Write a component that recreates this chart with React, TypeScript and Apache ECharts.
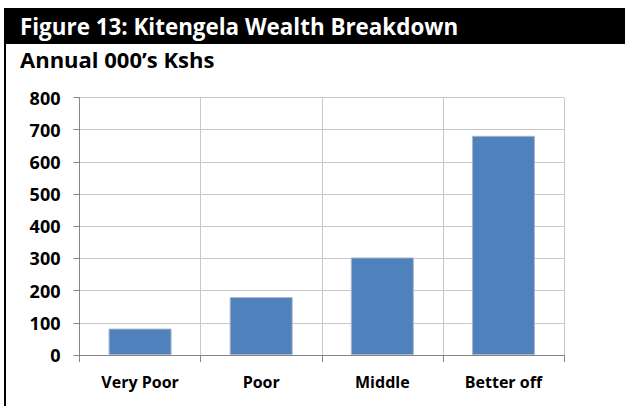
import React, { useEffect, useRef } from "react";
import * as echarts from "echarts";

const categories = ["Very Poor", "Poor", "Middle", "Better off"];
const values = [82, 180, 303, 681];
const yTicks = { min: 0, max: 800, interval: 100 };
const titleText = "Figure 13: Kitengela Wealth Breakdown";
const subtitleText = "Annual 000\u2019s Kshs";

export default function App() {
  const ref = useRef<HTMLDivElement>(null);
  useEffect(() => {
    if (!ref.current) return;
    const chart = echarts.init(ref.current, null, { renderer: "svg" });
    const font = "'Open Sans', Lato, sans-serif";
    chart.setOption({
      animation: false,
      backgroundColor: "#ffffff",
      graphic: [
        { type: "rect", shape: { x: 4, y: 8, width: 621, height: 36 }, style: { fill: "#000000" } },
        { type: "rect", shape: { x: 4, y: 44, width: 2, height: 362 }, style: { fill: "#000000" } },
        {
          type: "text",
          x: 20,
          y: 26,
          style: { text: titleText, fill: "#ffffff", font: `bold 22.4px ${font}`, textVerticalAlign: "middle" },
        },
        {
          type: "text",
          x: 20,
          y: 59,
          style: { text: subtitleText, fill: "#000000", font: `bold 22px ${font}`, textVerticalAlign: "middle" },
        },
      ],
      grid: { left: 79.5, right: 61, top: 97.5, bottom: 51, containLabel: false },
      xAxis: {
        type: "category",
        data: categories,
        axisLine: { show: true, lineStyle: { color: "#868686", width: 1 } },
        axisTick: { show: true, length: 7, lineStyle: { color: "#868686" } },
        splitLine: { show: true, lineStyle: { color: "#c8c8c8", width: 1 } },
        axisLabel: { color: "#000000", fontFamily: font, fontWeight: "bold", fontSize: 16, margin: 19 },
      },
      yAxis: {
        type: "value",
        min: yTicks.min,
        max: yTicks.max,
        interval: yTicks.interval,
        axisLine: { show: true, lineStyle: { color: "#868686", width: 1 } },
        axisTick: { show: true, length: 6, lineStyle: { color: "#868686" } },
        splitLine: { show: true, lineStyle: { color: "#c8c8c8", width: 1 } },
        axisLabel: { color: "#000000", fontFamily: font, fontWeight: "bold", fontSize: 18, margin: 19 },
      },
      series: [
        {
          type: "bar",
          data: values,
          barWidth: 63,
          itemStyle: { color: "#4F81BD", borderColor: "#a9b6c6", borderWidth: 1 },
        },
      ],
    });
    return () => chart.dispose();
  }, []);
  return <div ref={ref} style={{ position: "fixed", left: 0, top: 0, width: 625, height: 406 }} />;
}
